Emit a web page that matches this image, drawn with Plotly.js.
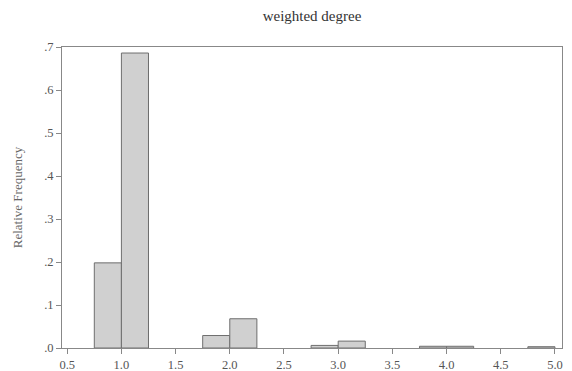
<!DOCTYPE html>
<html>
<head>
<meta charset="utf-8">
<script src="https://cdn.plot.ly/plotly-3.0.1.min.js"></script>
<style>html,body{margin:0;padding:0;background:#fff;}#chart{width:572px;height:371px;}</style>
</head>
<body>
<div id="chart"></div>
<script>
// Histogram bins (left edges) and relative frequencies
const binLeft = [0.75, 1.0, 1.75, 2.0, 2.75, 3.0, 3.75, 4.0, 4.75];
const relFreq = [0.198, 0.686, 0.029, 0.068, 0.006, 0.016, 0.004, 0.004, 0.003];
const binWidth = 0.25;

const xTickVals = [0.5, 1.0, 1.5, 2.0, 2.5, 3.0, 3.5, 4.0, 4.5, 5.0];
const xTickText = ["0.5", "1.0", "1.5", "2.0", "2.5", "3.0", "3.5", "4.0", "4.5", "5.0"];
const yTickVals = [0, 0.1, 0.2, 0.3, 0.4, 0.5, 0.6, 0.7];
const yTickText = [".0", ".1", ".2", ".3", ".4", ".5", ".6", ".7"];

const serif = "Liberation Serif, DejaVu Serif, serif";

const trace = {
  type: "bar",
  x: binLeft,
  y: relFreq,
  width: binLeft.map(() => binWidth),
  offset: 0,
  marker: { color: "#d0d0d0", line: { color: "#6e6e6e", width: 1 } },
  hoverinfo: "skip"
};

const layout = {
  width: 572,
  height: 371,
  margin: { l: 62, r: 10, t: 47, b: 23 },
  paper_bgcolor: "#ffffff",
  plot_bgcolor: "#ffffff",
  showlegend: false,
  bargap: 0,
  title: {
    text: "weighted degree",
    x: 0.5, xref: "paper",
    y: 0.957, yref: "container", yanchor: "middle",
    font: { family: serif, size: 15, color: "#333333" }
  },
  xaxis: {
    range: [0.452, 5.065],
    tickmode: "array",
    tickvals: xTickVals,
    ticktext: xTickText,
    ticks: "outside", ticklen: 5, tickcolor: "#888888", tickwidth: 1,
    showline: true, linecolor: "#888888", linewidth: 1, mirror: true,
    showgrid: false, zeroline: false,
    tickfont: { family: serif, size: 12.5, color: "#555555" }
  },
  yaxis: {
    range: [0, 0.7],
    tickmode: "array",
    tickvals: yTickVals,
    ticktext: yTickText,
    ticks: "outside", ticklen: 5, tickcolor: "#888888", tickwidth: 1,
    showline: true, linecolor: "#888888", linewidth: 1, mirror: true,
    showgrid: false, zeroline: false,
    tickfont: { family: serif, size: 12.5, color: "#555555" },
    title: { text: "Relative Frequency", standoff: 18, font: { family: serif, size: 13, color: "#666666" } }
  }
};

Plotly.newPlot("chart", [trace], layout, { displayModeBar: false, staticPlot: true });
</script>
</body>
</html>
